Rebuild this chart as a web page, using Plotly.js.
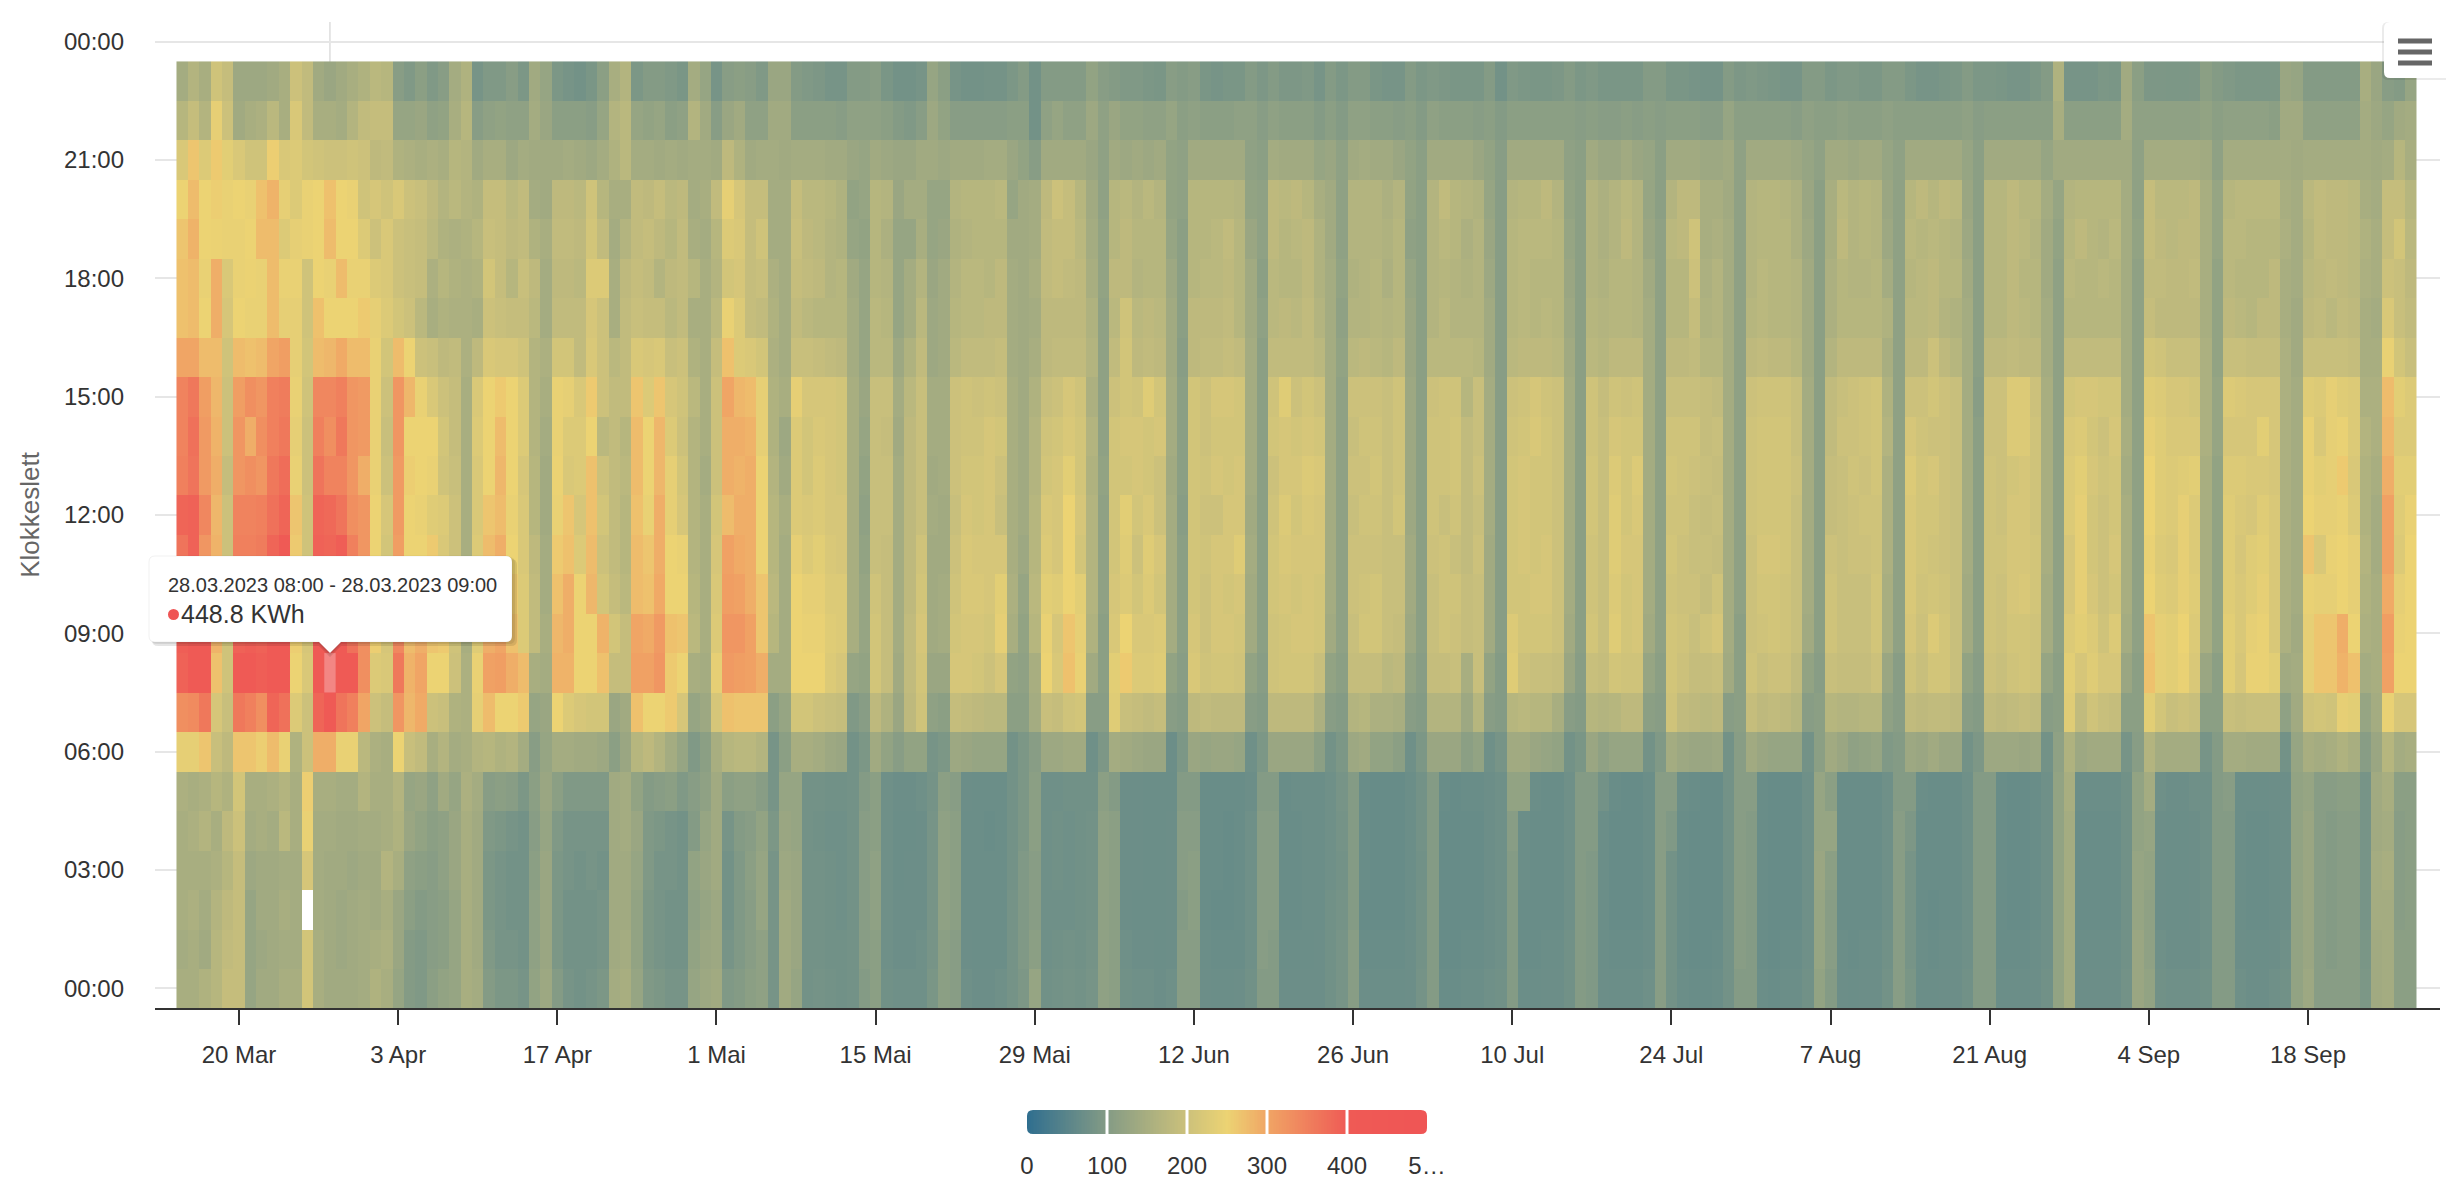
<!DOCTYPE html>
<html>
<head>
<meta charset="utf-8">
<script src="https://cdn.plot.ly/plotly-3.0.1.min.js"></script>
<style>
  html, body { margin: 0; padding: 0; background: #fff; }
  #chart { width: 2446px; height: 1190px; }
</style>
</head>
<body>
<div id="chart"></div>
<script>
// Hourly consumption in kWh, one row per day, hours 00..23.
// 26 Mar 02:00 does not exist (DST change), so it is null.
const kwhMar = [ // from 15 Mar
  [150,145,150,150,150,155,240,330,390,395,380,365,385,350,345,345,300,270,270,265,250,220,170,145],
  [150,150,155,150,155,150,240,335,400,400,395,390,390,365,370,360,300,275,275,285,275,265,190,165],
  [160,140,145,150,165,155,265,360,405,400,390,320,340,315,315,310,275,250,245,250,250,225,165,150],
  [170,170,165,155,150,170,195,215,270,285,290,285,280,290,285,280,275,290,290,248,255,260,240,205],
  [190,185,180,170,180,160,180,195,205,205,200,200,200,190,200,200,205,215,220,245,245,235,200,190],
  [190,190,190,190,200,210,265,360,400,390,360,350,345,320,320,310,275,250,245,245,250,220,140,135],
  [125,125,125,135,145,150,265,350,405,395,370,350,345,330,290,330,270,245,248,250,245,205,150,135],
  [140,135,140,140,150,150,255,330,395,390,375,355,350,320,330,320,275,245,245,275,270,205,155,135],
  [140,140,140,140,145,155,275,385,410,405,395,385,370,360,350,350,300,275,275,275,285,255,175,140],
  [150,145,150,145,175,165,245,370,410,410,405,400,385,375,360,355,310,240,245,225,240,220,150,150],
  [150,145,145,145,150,150,160,225,250,255,265,260,265,245,240,245,240,240,245,240,225,225,220,200],
  [210,210,null,215,245,255,200,200,220,215,210,205,205,200,200,205,210,205,205,245,245,210,185,185],
  [150,150,145,145,145,150,290,385,400,400,400,390,385,365,350,340,275,270,250,250,250,205,150,140],
  [140,140,140,140,145,150,290,400,448.8,405,405,385,380,345,330,340,280,250,245,275,270,200,150,130],
  [140,135,135,140,140,145,245,365,410,405,400,395,365,345,360,350,295,250,275,250,250,200,145,140],
  [140,140,140,135,140,145,245,350,405,370,360,350,330,320,320,320,275,250,245,250,245,205,165,150],
  [145,145,145,140,145,165,175,300,330,330,330,320,320,290,315,315,275,260,245,225,205,200,185,160]
];
const kwhApr = [
  [160,150,140,140,145,150,155,200,225,255,255,250,250,245,245,245,245,240,225,200,215,180,190,175],
  [150,155,150,165,150,150,150,190,220,215,215,210,215,200,195,200,210,225,220,220,205,185,190,170],
  [125,130,130,150,160,165,250,320,360,340,330,310,315,315,320,320,275,210,200,200,220,160,125,105],
  [100,100,110,115,130,125,195,280,285,275,270,250,250,255,250,280,250,200,195,195,200,155,125,95],
  [95,95,100,110,120,130,185,295,300,290,265,250,245,250,250,245,200,175,190,190,195,150,130,110],
  [110,105,105,105,110,115,150,200,250,265,270,260,230,245,250,220,195,150,155,175,180,155,115,95],
  [120,110,110,115,115,140,165,195,250,260,235,220,225,205,210,200,180,160,170,160,165,150,120,105],
  [125,125,125,130,130,125,145,160,200,205,200,200,200,195,190,190,185,155,160,155,175,170,150,145],
  [150,150,150,150,150,155,150,155,155,150,150,150,150,150,150,150,155,155,155,160,165,165,170,160],
  [145,140,140,140,140,145,165,240,245,230,230,225,220,220,225,220,180,150,160,170,160,140,105,85],
  [100,95,90,90,95,105,170,275,305,290,280,275,265,250,250,250,220,200,210,195,190,150,115,95],
  [90,85,85,85,90,110,160,250,310,300,290,290,275,280,275,260,215,195,190,190,190,150,120,95],
  [90,85,80,80,85,105,165,250,290,270,260,250,245,250,250,250,215,190,170,180,175,135,115,105],
  [85,80,80,80,80,90,145,260,275,225,225,220,220,215,225,225,205,190,195,185,185,145,115,90],
  [120,115,115,110,105,110,105,125,150,185,185,180,170,170,165,165,165,175,180,160,145,140,145,140],
  [135,130,130,130,125,130,125,130,145,150,145,145,140,140,145,150,155,145,145,150,140,140,130,125],
  [100,90,90,90,95,110,145,250,285,280,270,260,245,248,245,245,210,185,180,185,180,140,110,90],
  [85,80,80,85,85,95,145,225,285,290,290,270,265,220,225,240,210,185,180,185,180,145,110,85],
  [80,80,80,80,85,95,140,215,250,250,250,225,215,225,225,220,185,185,175,180,175,140,110,80],
  [85,80,80,85,85,95,140,210,250,250,280,275,270,270,250,260,220,215,225,210,205,135,105,88],
  [90,85,85,80,85,95,135,210,270,285,210,200,210,200,175,200,200,200,225,185,170,145,125,110],
  [145,140,140,140,140,140,110,130,190,210,190,185,185,185,185,185,175,150,150,145,150,160,165,150],
  [150,145,140,140,145,145,130,140,190,190,175,170,170,175,170,185,185,185,180,165,150,175,175,165],
  [125,120,120,125,130,120,170,270,305,300,275,275,270,275,275,265,220,195,190,185,185,145,125,90],
  [95,90,90,95,95,100,180,250,305,295,270,265,245,250,250,225,215,190,185,190,180,145,120,100],
  [90,85,85,85,90,105,165,250,320,315,295,290,290,280,280,265,220,190,165,180,190,140,125,100],
  [85,80,80,85,85,110,145,260,260,270,250,250,240,240,225,215,195,175,180,170,175,145,110,95],
  [85,80,80,80,80,95,125,215,250,265,250,245,215,210,200,205,200,185,185,185,180,140,115,88],
  [125,120,115,120,100,105,95,125,150,175,170,165,165,165,165,175,160,150,170,150,145,145,165,145],
  [135,130,125,130,125,115,110,135,145,150,150,150,150,145,150,150,150,150,150,145,150,145,140,125]
];
const kwhMai = [
  [140,135,135,140,140,140,150,215,240,225,220,215,210,200,200,200,190,175,165,170,185,140,105,85],
  [95,85,80,80,85,110,170,270,315,320,310,305,275,290,290,300,270,245,210,225,240,180,130,105],
  [100,95,95,95,100,115,175,265,310,320,305,295,290,285,290,280,225,225,215,220,215,160,140,110],
  [110,105,105,110,105,115,175,265,305,305,290,290,290,290,285,275,220,190,190,190,190,140,115,105],
  [115,115,125,125,120,105,165,265,290,265,265,250,250,250,240,240,210,185,195,205,190,145,115,95],
  [85,85,85,85,90,85,85,110,145,170,175,170,170,165,160,160,155,160,155,145,145,145,140,130],
  [140,140,140,135,130,125,110,125,145,145,145,145,150,140,135,150,145,145,145,145,145,140,140,130],
  [125,130,130,130,125,125,150,210,250,250,250,240,225,225,225,240,195,185,190,195,190,145,110,100],
  [80,80,80,80,80,80,150,210,250,245,240,225,220,210,210,215,195,175,185,180,175,145,110,95],
  [82,80,80,80,78,80,145,200,250,245,240,235,225,225,220,215,190,170,180,175,175,145,110,92],
  [80,78,78,78,75,78,135,195,225,230,225,220,215,215,215,215,185,170,165,165,170,140,110,85],
  [78,78,75,75,75,78,130,190,215,225,225,215,215,210,210,210,180,170,170,160,160,140,105,85],
  [80,80,80,80,80,80,80,95,125,150,150,150,150,150,150,150,145,145,140,125,120,130,115,100],
  [100,105,105,105,105,100,90,105,120,125,125,120,115,120,125,130,125,125,125,120,125,125,115,100],
  [110,110,115,115,110,110,140,180,210,210,205,195,195,195,195,195,175,175,170,170,170,140,115,105],
  [78,75,75,75,75,75,120,160,190,190,190,190,195,195,190,195,175,170,165,155,165,135,110,88],
  [75,72,72,70,70,72,105,130,140,145,145,145,145,145,140,145,135,125,125,125,130,130,100,80],
  [75,72,72,72,70,72,120,180,185,185,180,180,180,180,180,175,160,145,145,125,145,130,95,80],
  [75,75,72,72,72,75,120,205,210,215,210,205,195,195,195,195,185,175,165,150,145,140,105,85],
  [88,85,85,85,85,82,85,115,130,140,140,140,145,140,145,145,135,135,130,125,125,140,135,125],
  [110,110,115,115,115,110,90,110,130,145,145,140,140,145,145,145,140,140,140,130,125,135,120,110],
  [105,105,110,110,110,105,135,190,215,210,205,200,195,200,200,200,175,170,165,160,165,140,105,85],
  [75,72,70,70,70,72,130,185,215,215,220,220,215,210,205,205,185,175,175,165,170,140,105,80],
  [72,70,70,70,70,70,125,180,210,215,220,215,210,210,205,200,185,175,175,170,170,140,105,80],
  [72,70,70,70,68,70,125,175,200,210,215,215,215,215,215,205,185,180,170,170,170,145,105,82],
  [75,70,70,70,70,70,125,175,215,240,235,215,195,200,210,200,190,180,180,170,175,145,105,82],
  [82,82,82,80,80,80,80,110,120,150,155,150,150,150,150,150,145,145,145,140,125,130,110,90],
  [92,95,95,95,90,90,90,110,115,120,125,135,140,140,140,140,140,140,140,140,140,120,110,100],
  [125,110,105,105,110,110,105,145,150,170,175,170,170,165,165,160,150,145,150,145,145,105,80,80],
  [78,75,75,75,75,75,135,195,250,245,235,225,220,210,205,195,180,180,185,185,180,140,115,100],
  [80,78,75,78,78,75,135,190,220,215,230,215,215,215,210,200,185,180,190,190,200,140,125,100]
];
const kwhJun = [
  [82,80,75,75,75,78,140,205,270,265,250,250,250,235,220,215,185,180,185,190,190,140,115,100],
  [80,78,78,78,78,78,140,210,245,240,235,210,215,210,210,205,185,180,180,175,170,140,115,100],
  [85,82,80,80,80,78,75,105,140,160,165,165,165,160,165,155,165,160,150,145,140,130,135,120],
  [115,115,115,115,115,110,92,105,110,110,115,115,115,120,115,115,115,115,120,120,115,115,115,105],
  [110,110,110,110,110,100,145,230,235,220,215,210,210,210,210,200,185,175,180,170,170,140,130,100],
  [78,75,72,72,72,72,140,195,260,250,225,230,235,210,215,210,210,205,180,180,175,135,120,95],
  [75,72,70,72,72,72,135,190,225,220,210,200,210,215,215,205,180,175,165,170,165,140,120,95],
  [75,72,70,70,70,70,130,185,225,220,225,230,220,210,210,230,185,180,170,170,175,135,115,90],
  [72,70,70,70,70,70,130,190,230,225,210,215,200,200,215,210,180,175,170,170,165,140,115,88],
  [75,72,72,72,72,70,72,105,120,145,145,145,145,140,145,145,140,140,135,125,120,120,125,105],
  [105,105,100,105,105,100,90,100,105,110,110,110,105,110,110,110,105,110,110,110,115,115,110,100],
  [105,105,110,110,105,100,130,180,220,215,210,210,210,210,210,210,180,180,170,170,170,140,115,105],
  [72,70,68,68,68,68,125,185,205,200,200,205,200,205,200,200,185,180,175,170,170,140,110,88],
  [70,68,66,68,68,68,130,180,210,215,215,215,200,215,210,215,185,180,175,175,170,140,110,85],
  [70,68,66,66,66,68,130,180,210,215,210,215,215,210,210,215,190,185,180,185,170,140,110,88],
  [72,68,68,68,68,68,125,180,205,210,215,230,215,215,210,210,185,170,170,170,165,140,115,88],
  [78,75,75,75,75,72,75,105,120,140,140,145,140,145,145,145,145,140,140,130,120,115,115,100],
  [100,105,105,105,105,100,90,100,105,110,110,110,110,110,110,110,110,115,110,115,115,110,105,92],
  [100,100,105,105,105,100,130,180,205,205,210,210,205,200,210,205,185,175,175,180,180,145,115,100],
  [72,70,68,68,68,68,130,180,210,210,215,220,225,215,215,230,185,180,170,170,175,140,110,92],
  [72,70,68,68,68,70,130,180,210,215,210,215,210,215,210,200,185,175,170,175,180,140,110,92],
  [72,70,70,70,70,70,130,180,210,215,215,215,220,225,215,210,185,185,180,180,170,140,110,95],
  [72,72,70,70,70,70,110,155,195,210,210,215,215,220,210,200,175,165,160,160,150,125,100,85],
  [78,78,78,75,75,75,80,105,120,140,145,145,145,145,145,145,145,145,145,140,140,130,110,100],
  [85,85,82,80,82,85,90,100,110,115,115,115,115,115,115,115,120,115,120,115,115,115,100,90],
  [105,105,100,100,100,100,135,165,190,195,200,200,195,200,195,200,175,165,160,165,165,140,115,100],
  [72,68,66,68,68,68,140,170,190,210,205,200,205,200,205,200,180,165,165,165,165,145,115,100],
  [70,68,66,66,66,66,120,155,190,210,210,200,205,210,205,200,175,170,170,165,165,140,110,88],
  [70,68,66,66,66,66,120,155,175,195,195,195,195,195,195,195,170,165,155,160,155,140,110,85],
  [70,68,66,66,66,66,110,150,180,190,195,195,210,205,205,205,180,170,170,170,165,130,105,85]
];
const kwhJul = [
  [72,72,70,70,70,70,75,105,120,135,140,140,135,135,135,135,130,130,125,115,120,120,110,100],
  [82,80,80,78,80,80,90,100,105,110,110,110,110,110,110,110,110,110,110,110,110,110,100,90],
  [100,100,100,100,100,100,130,165,190,195,195,200,205,205,205,200,175,165,165,165,165,140,115,95],
  [68,66,66,66,66,68,130,165,190,205,205,205,195,205,205,205,175,175,170,175,185,140,110,92],
  [68,66,66,66,66,66,130,165,195,200,205,195,205,210,210,205,175,165,165,170,170,140,110,88],
  [70,68,66,66,66,68,110,135,150,190,190,185,185,185,185,170,175,165,160,155,165,140,110,88],
  [70,68,66,66,66,68,120,170,195,195,195,200,195,200,195,195,170,165,165,165,160,130,105,88],
  [75,72,72,72,72,72,75,105,120,140,140,140,145,145,145,145,140,140,135,130,125,120,110,100],
  [78,75,75,75,75,75,85,100,100,105,105,105,105,105,105,105,105,105,105,105,105,105,100,80],
  [100,100,100,100,105,120,140,170,230,225,210,210,210,210,205,200,175,170,170,170,165,140,110,95],
  [70,68,68,70,70,120,140,175,200,210,210,215,215,215,210,205,180,175,175,175,170,140,110,90],
  [70,68,68,68,68,70,130,170,195,210,215,210,210,210,220,215,180,170,170,175,170,140,110,88],
  [72,70,68,68,68,68,125,170,195,210,215,215,210,210,210,205,180,175,170,175,180,140,110,88],
  [72,70,68,68,68,68,120,150,190,200,200,200,200,200,200,200,175,170,170,170,165,140,110,92],
  [78,78,75,75,75,75,80,105,130,140,145,145,145,145,145,145,140,135,130,125,120,115,110,100],
  [100,100,100,100,100,100,88,100,105,110,110,110,110,110,110,110,110,110,110,110,110,110,105,90],
  [95,95,95,95,100,100,130,170,195,210,205,205,210,210,205,205,175,170,165,165,165,140,110,95],
  [72,70,70,70,70,80,115,165,190,195,195,195,195,195,195,190,170,165,160,155,155,130,105,88],
  [70,68,66,66,66,68,125,170,210,230,225,230,230,225,215,205,180,170,170,165,165,130,105,88],
  [70,68,66,66,66,66,125,180,205,210,210,215,210,210,210,200,180,170,170,180,175,140,110,88],
  [70,68,66,66,66,66,125,180,205,215,215,215,220,225,210,205,180,165,165,165,165,130,105,88],
  [75,72,70,70,70,70,80,110,125,140,145,145,145,145,145,145,145,145,140,130,125,125,110,100],
  [105,105,105,105,105,105,95,105,110,115,115,115,115,115,115,115,115,115,115,115,110,110,105,100],
  [80,80,80,80,95,105,145,205,210,210,205,210,205,210,205,195,180,170,170,175,165,140,110,88],
  [70,68,68,68,68,70,135,185,200,205,200,200,205,205,205,195,180,170,170,180,180,140,110,88],
  [68,66,66,66,66,68,130,180,190,195,200,195,195,200,205,195,185,190,200,205,180,140,110,85],
  [68,66,66,66,66,66,130,175,190,205,190,195,190,195,190,190,170,160,155,150,150,135,105,82],
  [70,68,66,66,66,66,135,180,195,215,205,190,195,190,195,185,170,165,165,155,150,135,105,82],
  [80,80,80,80,80,80,80,105,140,145,145,145,145,145,145,145,145,145,145,145,140,140,125,100],
  [100,105,105,105,105,105,105,110,110,110,115,115,115,115,115,115,115,115,115,115,115,115,110,92],
  [100,100,100,100,100,105,140,190,205,200,200,200,205,205,205,200,180,170,165,165,165,140,110,95]
];
const kwhAug = [
  [70,68,68,68,68,68,130,180,195,205,210,215,210,210,210,205,185,175,175,170,170,140,110,92],
  [68,66,66,66,66,66,125,185,200,210,210,215,210,210,210,205,180,170,170,170,170,140,110,88],
  [70,68,66,66,66,66,125,180,200,205,205,210,210,210,210,205,180,170,170,170,165,140,110,85],
  [70,68,66,66,66,66,125,170,185,195,195,195,195,200,195,195,170,165,165,155,155,135,105,85],
  [78,75,75,75,75,75,80,105,120,140,145,145,145,145,145,145,140,140,140,135,130,125,115,100],
  [120,125,125,130,125,125,110,110,105,110,110,110,110,110,110,110,110,110,110,110,110,115,110,100],
  [100,105,105,110,125,110,140,170,195,205,205,200,190,190,185,185,165,155,155,150,150,140,110,90],
  [72,70,68,68,68,68,130,165,190,195,195,195,195,195,200,195,180,170,170,180,175,140,115,95],
  [70,68,68,68,68,68,115,165,190,195,195,200,200,205,200,200,180,170,165,165,165,135,110,95],
  [72,70,68,68,68,68,120,170,190,195,195,200,205,200,205,205,180,170,165,170,170,140,110,90],
  [72,70,68,68,68,68,125,170,200,210,210,205,205,210,210,210,180,170,170,165,165,140,110,90],
  [80,78,75,75,75,75,95,115,130,150,150,155,155,155,165,160,150,160,145,135,130,125,115,100],
  [105,105,105,105,105,100,100,105,105,115,115,115,115,115,115,115,115,115,115,115,115,115,110,100],
  [88,85,85,85,92,100,135,185,205,215,220,220,220,225,215,200,180,175,170,175,170,140,110,90],
  [70,70,68,68,68,70,130,180,195,200,205,210,210,210,205,200,180,175,175,170,180,140,110,85],
  [70,68,66,68,68,68,140,185,210,225,210,205,210,215,200,210,200,180,180,175,170,140,110,85],
  [72,70,68,68,68,68,130,185,210,210,205,200,200,200,200,200,180,165,170,170,180,140,110,88],
  [72,70,68,68,68,68,130,180,195,195,195,195,195,195,195,195,170,160,170,165,175,140,110,90],
  [78,75,75,75,75,75,80,105,120,140,140,145,145,145,145,145,145,145,140,135,130,125,115,100],
  [100,100,100,100,100,100,92,100,105,110,110,110,110,110,110,105,110,110,110,110,110,110,105,90],
  [100,100,100,100,100,100,135,185,200,205,205,205,205,205,200,200,180,170,170,170,170,140,110,90],
  [70,68,68,68,68,68,135,180,195,200,200,205,200,200,200,200,180,170,170,170,170,140,110,88],
  [70,68,66,66,66,66,135,185,205,210,215,215,215,210,225,225,185,180,180,180,180,140,110,85],
  [70,68,66,66,66,66,130,190,210,210,220,215,215,215,225,225,180,175,170,175,170,140,110,85],
  [72,70,68,68,68,68,135,185,205,205,210,210,205,205,205,200,180,170,170,165,170,140,110,90],
  [78,75,75,75,75,75,80,105,125,145,145,150,150,150,150,150,145,145,140,140,145,125,110,100],
  [120,120,120,120,120,120,115,110,110,115,115,115,115,115,115,115,115,115,115,120,125,140,150,160],
  [145,145,145,145,145,150,160,230,235,225,215,215,225,225,220,210,185,170,175,170,165,140,110,85],
  [72,70,68,68,68,70,135,185,215,235,240,240,240,235,225,215,185,170,170,180,170,140,110,85],
  [72,70,68,68,68,70,140,205,230,225,215,210,210,215,210,215,185,170,170,170,170,140,110,85],
  [72,70,68,68,68,70,140,195,215,205,200,200,200,205,200,210,185,170,175,165,170,140,110,90]
];
const kwhSep = [
  [72,70,68,68,68,70,140,190,215,225,210,215,210,210,215,210,185,170,170,175,170,140,110,88],
  [80,78,78,78,78,78,85,110,130,145,150,150,150,145,150,145,145,145,145,145,145,140,145,140],
  [130,130,125,125,120,120,105,110,110,115,115,115,115,115,115,115,115,115,115,120,115,115,115,110],
  [120,115,115,120,125,145,165,235,270,265,250,245,250,250,240,230,210,190,185,190,190,145,115,92],
  [78,75,72,72,72,75,145,210,240,240,230,225,230,230,230,225,205,180,185,180,175,145,115,92],
  [75,72,70,70,70,72,145,195,235,235,225,220,225,225,220,215,195,180,180,175,175,145,115,90],
  [75,72,70,70,70,72,145,200,245,250,240,240,240,230,220,215,195,180,180,180,175,145,115,90],
  [75,72,72,72,72,75,145,195,220,225,230,225,225,235,220,210,195,180,185,180,180,145,115,92],
  [78,75,75,75,75,75,85,110,130,150,150,150,150,150,155,155,155,150,150,150,150,140,120,110],
  [100,100,100,100,100,100,100,110,110,120,120,120,120,120,125,125,120,120,120,125,125,115,110,100],
  [100,100,100,100,100,105,145,195,235,235,230,230,230,225,215,225,195,180,175,175,170,145,115,95],
  [75,72,70,70,70,70,145,190,215,220,220,215,220,225,215,220,195,175,170,175,175,145,115,90],
  [72,70,68,68,68,70,140,195,245,240,230,230,215,220,215,215,190,170,170,170,175,145,115,90],
  [72,70,68,68,68,70,140,195,245,245,240,235,230,220,235,215,190,180,170,170,175,145,115,90],
  [75,72,70,70,70,72,140,195,235,220,220,220,220,215,215,215,190,180,180,170,175,145,110,90],
  [78,75,72,72,72,72,80,115,140,155,155,155,155,155,155,155,155,150,150,155,150,145,140,130],
  [120,120,120,120,120,120,125,140,145,140,145,145,145,145,145,145,140,140,145,145,145,140,140,125],
  [135,130,130,130,130,125,150,205,240,240,245,265,250,245,245,230,195,180,175,170,175,145,115,100],
  [105,105,105,105,105,105,145,210,265,265,240,220,240,235,220,225,195,185,180,185,185,145,115,100],
  [105,100,100,100,100,105,150,205,265,265,240,245,240,240,240,240,195,175,185,180,180,145,115,100],
  [105,105,105,105,105,110,160,240,285,290,250,250,245,260,245,230,195,185,180,180,180,145,115,100],
  [105,105,105,105,105,110,150,235,270,250,240,240,225,220,225,225,190,180,175,175,175,145,115,100],
  [90,88,85,85,85,85,105,125,145,155,160,165,160,160,165,155,150,150,155,160,150,145,145,150],
  [140,140,145,145,140,140,130,145,150,150,150,145,145,150,155,155,150,145,150,150,145,140,135,130],
  [145,145,145,150,145,150,170,245,305,310,295,305,305,290,280,275,245,220,200,190,190,145,125,105],
  [110,110,105,105,105,110,145,215,250,245,240,225,230,235,225,235,210,195,195,210,190,170,140,100],
  [110,110,110,110,110,110,150,215,250,250,250,250,245,235,225,225,195,185,180,175,170,150,145,125]
];

const hourTickVals = [0, 3, 6, 9, 12, 15, 18, 21, 24];
const hourTickLabels = ["00:00", "03:00", "06:00", "09:00", "12:00", "15:00", "18:00", "21:00", "00:00"];
const dateTickVals = ["2023-03-20", "2023-04-03", "2023-04-17", "2023-05-01", "2023-05-15", "2023-05-29",
  "2023-06-12", "2023-06-26", "2023-07-10", "2023-07-24", "2023-08-07", "2023-08-21", "2023-09-04", "2023-09-18"];
const dateTickLabels = ["20 Mar", "3 Apr", "17 Apr", "1 Mai", "15 Mai", "29 Mai",
  "12 Jun", "26 Jun", "10 Jul", "24 Jul", "7 Aug", "21 Aug", "4 Sep", "18 Sep"];
const legendTickVals = [0, 100, 200, 300, 400, 500];
const legendTickLabels = ["0", "100", "200", "300", "400", "5…"];

// the point under the mouse in the screenshot
const hoverDay = "2023-03-28";
const hoverHour = 8;

const COLORSCALE = [
  [0, "#2f6e8f"],
  [0.2, "#849b85"],
  [0.4, "#ccc17b"],
  [0.5, "#ecd373"],
  [0.6, "#f0a565"],
  [0.8, "#ef5a55"],
  [1, "#ef5555"],
];
const FONT = 'Helvetica, Arial, "Liberation Sans", sans-serif';

const months = [
  { prefix: "2023-03-", first: 15, rows: kwhMar },
  { prefix: "2023-04-", first: 1, rows: kwhApr },
  { prefix: "2023-05-", first: 1, rows: kwhMai },
  { prefix: "2023-06-", first: 1, rows: kwhJun },
  { prefix: "2023-07-", first: 1, rows: kwhJul },
  { prefix: "2023-08-", first: 1, rows: kwhAug },
  { prefix: "2023-09-", first: 1, rows: kwhSep },
];

const days = [];
const dayRows = [];
months.forEach((m) => {
  m.rows.forEach((row, k) => {
    days.push(m.prefix + String(m.first + k).padStart(2, "0"));
    dayRows.push(row);
  });
});
const hours = dayRows[0].map((_, h) => h);
const z = hours.map((h) => dayRows.map((row) => (row[h] === undefined ? null : row[h])));

const hoverIdx = days.indexOf(hoverDay);
const hoverValue = z[hoverHour][hoverIdx];

// pixel helpers for things placed on the page
const W = 2446, H = 1190;
const M = { l: 155, r: 6, t: 22, b: 20 };
const fx = (px) => (px - M.l) / (W - M.l - M.r);
const fy = (py) => (H - M.b - py) / (H - M.t - M.b);
const P = (x, y) => `${fx(x)},${fy(y)}`;

function boxPath(x0, y0, x1, y1, r, tip) {
  let d = `M ${P(x0 + r, y0)} L ${P(x1 - r, y0)} Q ${P(x1, y0)} ${P(x1, y0 + r)}`;
  d += ` L ${P(x1, y1 - r)} Q ${P(x1, y1)} ${P(x1 - r, y1)}`;
  if (tip) d += ` L ${P(tip.x + tip.w / 2, y1)} L ${P(tip.x, y1 + tip.h)} L ${P(tip.x - tip.w / 2, y1)}`;
  d += ` L ${P(x0 + r, y1)} Q ${P(x0, y1)} ${P(x0, y1 - r)} L ${P(x0, y0 + r)} Q ${P(x0, y0)} ${P(x0 + r, y0)} Z`;
  return d;
}

function fmtDay(d) {
  const [y, m, dd] = d.split("-");
  return `${dd}.${m}.${y}`;
}
const hh = (h) => String(h).padStart(2, "0") + ":00";

// legend ramp
const legendSteps = [];
for (let v = 0; v <= 500; v += 2) legendSteps.push(v);

const mainTrace = {
  type: "heatmap",
  x: days,
  y: hours,
  z,
  colorscale: COLORSCALE,
  zmin: 0,
  zmax: 500,
  showscale: false,
  hoverinfo: "skip",
};

const legendTrace = {
  type: "heatmap",
  x: legendSteps,
  y: [0],
  z: [legendSteps],
  xaxis: "x2",
  yaxis: "y2",
  colorscale: COLORSCALE,
  zmin: 0,
  zmax: 500,
  showscale: false,
  hoverinfo: "skip",
};

const markerTrace = {
  type: "scatter",
  mode: "markers",
  x: [hoverValue],
  y: [0.82],
  xaxis: "x2",
  yaxis: "y2",
  marker: { symbol: "triangle-down", size: 15, color: "#999999" },
  cliponaxis: false,
  hoverinfo: "skip",
  showlegend: false,
};

const dayMs = Date.parse(hoverDay + "T00:00:00Z");
const halfDay = 12 * 3600 * 1000;

const shapes = [
  // crosshair on hovered day (hidden behind cells except at top)
  {
    type: "line", xref: "x", yref: "y", layer: "below",
    x0: hoverDay, x1: hoverDay, y0: -0.5, y1: 24.5,
    line: { color: "#cccccc", width: 1 },
  },
  // hovered cell brightened
  {
    type: "rect", xref: "x", yref: "y",
    x0: dayMs - halfDay, x1: dayMs + halfDay, y0: hoverHour - 0.5, y1: hoverHour + 0.5,
    fillcolor: "rgba(255,255,255,0.28)", line: { width: 0 },
  },
];

// white gaps between legend segments
[100, 200, 300, 400].forEach((v) => {
  shapes.push({
    type: "line", xref: "x2", yref: "y2", x0: v, x1: v, y0: -0.6, y1: 0.6,
    line: { color: "#ffffff", width: 3 },
  });
});
// rounded legend ends
const rx = 7.5, ry = 0.25;
[
  `M -1,0.55 L ${rx},0.55 L ${rx},0.5 Q 0,0.5 0,${0.5 - ry} L -1,${0.5 - ry} Z`,
  `M -1,-0.55 L ${rx},-0.55 L ${rx},-0.5 Q 0,-0.5 0,${-0.5 + ry} L -1,${-0.5 + ry} Z`,
  `M 501,0.55 L ${500 - rx},0.55 L ${500 - rx},0.5 Q 500,0.5 500,${0.5 - ry} L 501,${0.5 - ry} Z`,
  `M 501,-0.55 L ${500 - rx},-0.55 L ${500 - rx},-0.5 Q 500,-0.5 500,${-0.5 + ry} L 501,${-0.5 + ry} Z`,
].forEach((path) => {
  shapes.push({ type: "path", xref: "x2", yref: "y2", path, fillcolor: "#ffffff", line: { width: 0 } });
});

// tooltip
const tip = { x: 330, w: 22, h: 11 };
shapes.push(
  { type: "path", xref: "paper", yref: "paper", path: boxPath(152, 559, 517, 646, 6, tip),
    fillcolor: "rgba(0,0,0,0.10)", line: { width: 0 } },
  { type: "path", xref: "paper", yref: "paper", path: boxPath(151, 557, 515, 644, 6, tip),
    fillcolor: "rgba(0,0,0,0.08)", line: { width: 0 } },
  { type: "path", xref: "paper", yref: "paper", path: boxPath(149, 556, 512, 642, 6, tip),
    fillcolor: "#ffffff", line: { color: "rgba(0,0,0,0.06)", width: 1 } },
  // series colour dot in front of the value
  { type: "circle", xref: "paper", yref: "paper",
    x0: fx(168), x1: fx(179), y0: fy(620), y1: fy(609),
    fillcolor: "#ef5555", line: { width: 0 } }
);

// context menu button
shapes.push(
  { type: "path", xref: "paper", yref: "paper", path: boxPath(2382, 22, 2452, 80, 6),
    fillcolor: "rgba(0,0,0,0.08)", line: { width: 0 } },
  { type: "path", xref: "paper", yref: "paper", path: boxPath(2384, 22, 2452, 78, 6),
    fillcolor: "#ffffff", line: { width: 0 } }
);
[41, 52, 63].forEach((py) => {
  shapes.push({
    type: "line", xref: "paper", yref: "paper",
    x0: fx(2398), x1: fx(2432), y0: fy(py), y1: fy(py),
    line: { color: "#666666", width: 5 },
  });
});

const annotations = [
  {
    xref: "paper", yref: "paper", x: fx(166), y: fy(585), xanchor: "left", yanchor: "middle",
    showarrow: false, align: "left",
    text: `${fmtDay(hoverDay)} ${hh(hoverHour)} - ${fmtDay(hoverDay)} ${hh(hoverHour + 1)}`,
    font: { family: FONT, size: 20, color: "#333333" },
  },
  {
    xref: "paper", yref: "paper", x: fx(179), y: fy(614), xanchor: "left", yanchor: "middle",
    showarrow: false, align: "left",
    text: `${hoverValue} KWh`,
    font: { family: FONT, size: 25, color: "#333333" },
  },
];

const layout = {
  width: W,
  height: H,
  margin: M,
  paper_bgcolor: "#ffffff",
  plot_bgcolor: "#ffffff",
  font: { family: FONT, color: "#333333" },
  showlegend: false,
  xaxis: {
    type: "date",
    range: ["2023-03-12 14:38", "2023-09-29 14:40"],
    domain: [0, 1],
    anchor: "y",
    tickmode: "array",
    tickvals: dateTickVals,
    ticktext: dateTickLabels,
    ticks: "outside",
    ticklen: 15,
    tickwidth: 2,
    tickcolor: "#333333",
    showline: true,
    linecolor: "#333333",
    linewidth: 2,
    showgrid: false,
    zeroline: false,
    tickfont: { family: FONT, size: 24, color: "#333333" },
    ticklabelstandoff: 9,
  },
  yaxis: {
    domain: [fy(1008), 1],
    anchor: "x",
    range: [-0.5, 24.5],
    tickmode: "array",
    tickvals: hourTickVals,
    ticktext: hourTickLabels,
    ticks: "",
    showgrid: true,
    gridcolor: "#e6e6e6",
    gridwidth: 2,
    zeroline: false,
    showline: false,
    tickfont: { family: FONT, size: 24, color: "#333333" },
    ticklabelstandoff: 30,
    title: { text: "Klokkeslett", font: { family: FONT, size: 26, color: "#666666" }, standoff: 16 },
  },
  xaxis2: {
    domain: [fx(1027), fx(1427)],
    anchor: "y2",
    range: [0, 500],
    tickmode: "array",
    tickvals: legendTickVals,
    ticktext: legendTickLabels,
    ticks: "",
    showgrid: false,
    zeroline: false,
    showline: false,
    tickfont: { family: FONT, size: 24, color: "#333333" },
    ticklabelstandoff: 15,
  },
  yaxis2: {
    domain: [fy(1134), fy(1110)],
    anchor: "x2",
    range: [-0.5, 0.5],
    visible: false,
  },
  shapes,
  annotations,
};

Plotly.newPlot("chart", [mainTrace, legendTrace, markerTrace], layout, {
  displayModeBar: false,
  staticPlot: true,
  responsive: false,
});
</script>
</body>
</html>
